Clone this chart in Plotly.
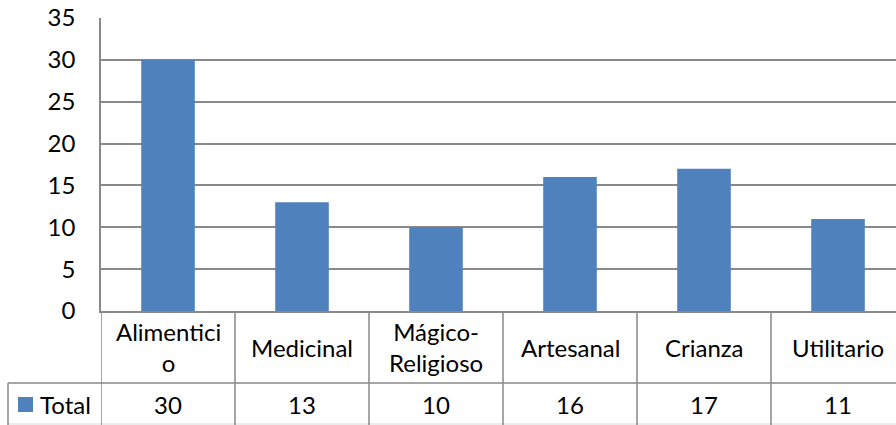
import plotly.graph_objects as go

categories = ["Alimenticio", "Medicinal", "Mágico-Religioso", "Artesanal", "Crianza", "Utilitario"]
cat_labels = ["Alimentici<br>o", "Medicinal", "Mágico-<br>Religioso", "Artesanal", "Crianza", "Utilitario"]
values = [30, 13, 10, 16, 17, 11]
series_name = "Total"
y_ticks = [0, 5, 10, 15, 20, 25, 30, 35]

BLUE = "#4F81BD"
GRID = "#898989"
FONT = "Lato"
FS = 24

W, H = 896, 425
ml, mr, mt, mb = 101, 0, 18, 114
plot_h = H - mt - mb
n = len(categories)
x_max = n - 0.5 - 9 / 134.0

def py(px):
    # pixel y (from top) to paper coordinate
    return (H - mb - px) / plot_h

xs = list(range(n))
fig = go.Figure()
fig.add_trace(go.Bar(x=xs, y=values, marker=dict(color=BLUE, line=dict(width=0)),
                     width=0.4, name=series_name, showlegend=False))

shapes = []
line = dict(color=GRID, width=1.5)
# horizontal table line between category row and value row
shapes.append(dict(type="line", xref="paper", yref="paper", x0=-93 / (W - ml), x1=1,
                   y0=py(383), y1=py(383), line=line))
# bottom light line
shapes.append(dict(type="line", xref="paper", yref="paper", x0=-93 / (W - ml), x1=1,
                   y0=py(424), y1=py(424), line=dict(color="#D9D9D9", width=1)))
# left border of value row
shapes.append(dict(type="line", xref="paper", yref="paper", x0=-93 / (W - ml), x1=-93 / (W - ml),
                   y0=py(383), y1=py(425), line=line))
# vertical category separators
for k in range(n):
    shapes.append(dict(type="line", xref="x", yref="paper", x0=k - 0.5, x1=k - 0.5,
                       y0=0, y1=py(425), line=line))
# legend key square
shapes.append(dict(type="rect", xref="paper", yref="paper",
                   x0=-83 / (W - ml), x1=-68 / (W - ml), y0=py(412), y1=py(397),
                   fillcolor=BLUE, line=dict(width=0)))

annotations = []
for i, lab in enumerate(cat_labels):
    annotations.append(dict(x=i, y=py(347), xref="x", yref="paper", text=lab, showarrow=False,
                            font=dict(family=FONT, size=FS, color="#000"), xanchor="center",
                            yanchor="middle", align="center"))
for i, v in enumerate(values):
    annotations.append(dict(x=i, y=py(405), xref="x", yref="paper", text=str(v), showarrow=False,
                            font=dict(family=FONT, size=FS, color="#000"), xanchor="center",
                            yanchor="middle"))
annotations.append(dict(x=-63 / (W - ml), y=py(405), xref="paper", yref="paper", text=series_name,
                        showarrow=False, font=dict(family=FONT, size=FS, color="#000"),
                        xanchor="left", yanchor="middle"))

fig.update_layout(
    width=W, height=H,
    margin=dict(l=ml, r=mr, t=mt, b=mb, pad=0),
    paper_bgcolor="white", plot_bgcolor="white",
    bargap=0.6,
    shapes=shapes, annotations=annotations,
    xaxis=dict(range=[-0.5, x_max], showticklabels=False, showgrid=False, zeroline=False,
               showline=True, linecolor=GRID, linewidth=1.5, ticks=""),
    yaxis=dict(range=[0, 35], tickvals=y_ticks, showgrid=True, gridcolor=GRID, gridwidth=1.5,
               zeroline=False, showline=True, linecolor=GRID, linewidth=1.5, ticks="",
               tickfont=dict(family=FONT, size=FS, color="#000"), ticklabelstandoff=19),
    font=dict(family=FONT, size=FS, color="#000"),
)

fig.write_html("out.html")
